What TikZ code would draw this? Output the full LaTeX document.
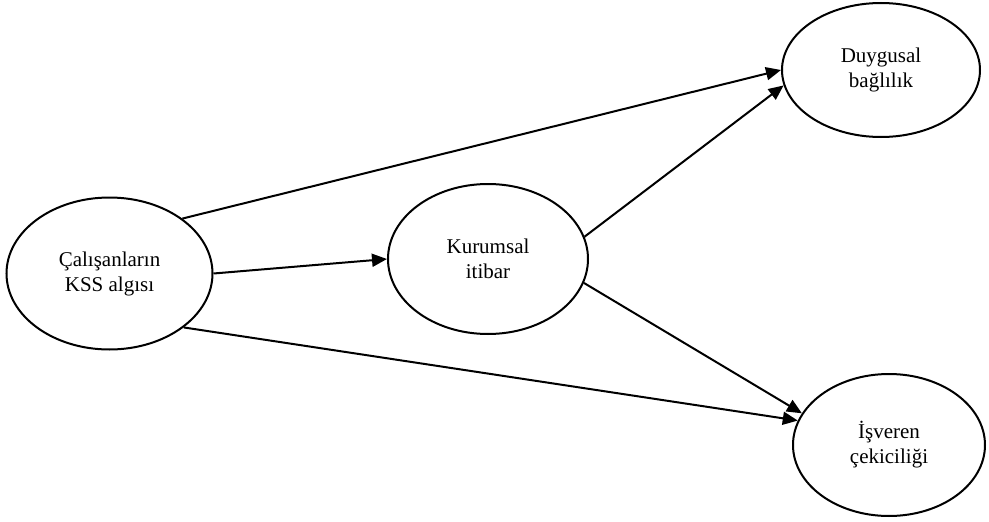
\documentclass[tikz,border=0pt]{standalone}
\usepackage{fontspec}
\setmainfont{Liberation Serif}
\usetikzlibrary{shapes.geometric,arrows.meta}
\begin{document}
\begin{tikzpicture}[
        x=1pt, y=-1pt,
        oval/.style={ellipse, draw, line width=2pt, inner sep=0pt, align=center,
            font=\fontsize{21}{25}\selectfont},
        arrow/.style={-{Triangle[length=15pt,width=13pt]}, line width=2pt}
    ]
    \useasboundingbox (0,0) rectangle (989,522);
    % Nodes
    \node[oval, minimum width=206pt, minimum height=152pt] (K) at (109.5,273.5) {Çalışanların\\KSS algısı};
    \node[oval, minimum width=200pt, minimum height=150pt] (I) at (488,259) {Kurumsal\\itibar};
    \node[oval, minimum width=198pt, minimum height=134pt] (D) at (881,70) {Duygusal\\bağlılık};
    \node[oval, minimum width=192pt, minimum height=142pt] (E) at (889,445) {İşveren\\çekiciliği};
    % Edges
    \draw[arrow] (K.37) -- (D.180);
    \draw[arrow] (K.0) -- (I.180);
    \draw[arrow] (K.-36) -- (E.165);
    \draw[arrow] (I.13) -- (D.189);
    \draw[arrow] (I.-14) -- (E.160);
\end{tikzpicture}
\end{document}
